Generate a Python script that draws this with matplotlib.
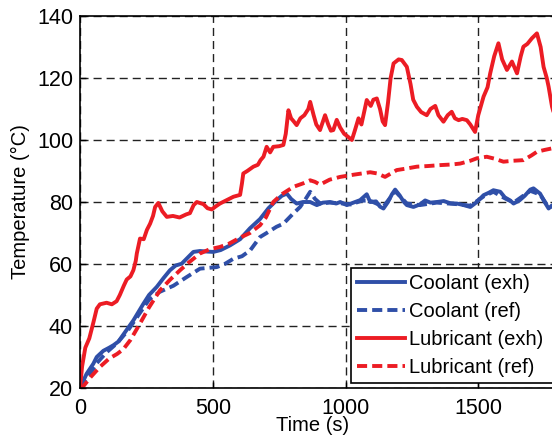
"""Coolant / lubricant warm-up temperatures, exhaust heat recovery vs reference."""

import matplotlib

matplotlib.use("Agg")
import matplotlib.pyplot as plt

# --- data (time in s, temperature in degC) ---
cool_exh_t = [0, 25, 50, 63, 88, 110, 126, 145, 163, 201, 239, 260, 289, 315, 339, 360,
              383, 405, 427, 452, 480, 502, 530, 565, 603, 640, 678, 710, 741, 760, 779,
              795, 816, 840, 867, 892, 915, 942, 965, 980, 1005, 1030, 1055, 1080, 1093,
              1115, 1130, 1143, 1160, 1175, 1187, 1205, 1220, 1231, 1256, 1280, 1300,
              1320, 1344, 1370, 1395, 1420, 1445, 1470, 1495, 1520, 1540, 1557, 1583,
              1600, 1620, 1633, 1655, 1675, 1696, 1708, 1733, 1750, 1765, 1778, 1800]
cool_exh_T = [20, 24.6, 27.8, 30, 32, 33, 33.8, 35, 37.2, 41.8, 47.2, 50, 52.6, 55.5, 58,
              59.5, 60.1, 62, 63.9, 64.2, 64, 63.9, 64.5, 66, 68, 71.5, 74.5, 78, 80.6, 82,
              82.7, 81, 79.5, 80, 80, 79, 79.8, 80, 79.5, 80, 79, 79.8, 80.6, 82.5, 80,
              80.2, 78.5, 77.9, 80, 82.5, 84, 82, 80, 79, 78.4, 79.2, 80.5, 79.8, 80, 80.3,
              79.6, 79.5, 79, 78.4, 80, 82.2, 83, 83.8, 83.3, 81.5, 80.5, 79.5, 80.5, 82,
              84, 84.4, 82.7, 80, 77.9, 78.9, 79]

cool_ref_t = [0, 30, 63, 100, 140, 180, 220, 260, 300, 352, 402, 452, 490, 515, 545, 578,
              610, 641, 678, 703, 740, 766, 800, 829, 850, 867, 885, 905, 940, 980, 1020,
              1060, 1090, 1143, 1187, 1231, 1280, 1344, 1420, 1470, 1520, 1557, 1600,
              1633, 1696, 1733, 1765, 1800]
cool_ref_T = [20, 23.5, 28, 31.5, 34.5, 38.5, 43.5, 48.5, 51, 53, 55.8, 58.5, 58.8, 59, 60,
              61.7, 62.5, 64.4, 68.7, 70, 72, 73, 76, 78.4, 81, 83.3, 81, 79.5, 79.8, 79.6,
              79.2, 80.4, 80.5, 78.5, 83.5, 79.5, 79, 79.8, 79.3, 78.8, 81.8, 83.3, 81.2,
              79.8, 83.6, 82.4, 78.3, 79]

lub_exh_t = [0, 8, 20, 35, 50, 63, 75, 100, 120, 138, 150, 165, 176, 190, 201, 210, 214,
             226, 240, 252, 264, 275, 283, 295, 310, 327, 350, 375, 400, 414, 428, 440,
             465, 480, 496, 510, 527, 550, 578, 603, 610, 615, 630, 653, 670, 680, 691,
             703, 716, 728, 750, 766, 775, 785, 795, 805, 816, 830, 845, 860, 867, 880,
             890, 904, 915, 923, 935, 945, 954, 967, 980, 995, 1010, 1024, 1035, 1049,
             1060, 1070, 1080, 1095, 1105, 1118, 1130, 1140, 1149, 1160, 1170, 1181,
             1200, 1212, 1231, 1245, 1255, 1269, 1285, 1306, 1320, 1338, 1350, 1369,
             1385, 1400, 1412, 1426, 1440, 1457, 1470, 1488, 1500, 1520, 1535, 1545,
             1560, 1576, 1590, 1608, 1627, 1646, 1660, 1670, 1685, 1702, 1721, 1735,
             1746, 1758, 1765, 1778, 1800]
lub_exh_T = [20, 27, 33, 36, 41, 45.6, 47, 47.5, 47, 48, 50, 53, 55, 56, 58, 61, 63.4,
             68.2, 68, 71, 73, 75.5, 78.4, 79.7, 77, 75.2, 75.5, 75, 76, 76.4, 79, 80,
             79.3, 78, 77.6, 78.5, 79.5, 80.5, 81.7, 82.3, 86, 89.2, 90, 91.4, 92, 93.5,
             94.6, 97.8, 96, 97.8, 98, 98.4, 102, 109.6, 107, 106, 104.8, 107, 108, 110,
             112.3, 108, 105, 103.2, 106, 108, 105, 103, 103.2, 106.5, 104, 102, 101, 100,
             103, 107, 105, 109, 112.9, 111, 113, 113.4, 110, 106, 104.8, 112, 120, 124.7,
             126, 125.8, 123.6, 118, 113, 110.7, 109, 108, 110, 111, 108, 105.9, 108,
             109.1, 107, 106.4, 106.8, 106.4, 105, 102.6, 108, 114, 117, 121.5, 127,
             131.2, 126, 122.6, 125.3, 121.5, 127, 130.1, 131, 132.8, 134.4, 130, 123.6,
             120, 117.2, 110.7, 104]

lub_ref_t = [0, 12, 40, 75, 110, 140, 163, 190, 226, 260, 301, 340, 377, 410, 452, 490,
             527, 560, 603, 640, 678, 700, 728, 760, 804, 840, 867, 885, 904, 940, 980,
             1030, 1093, 1120, 1149, 1193, 1230, 1269, 1310, 1357, 1400, 1432, 1470,
             1495, 1532, 1560, 1595, 1630, 1670, 1700, 1721, 1750, 1778, 1800]
lub_ref_T = [20, 20.5, 23.5, 26.8, 29.5, 31, 32.5, 35.5, 40.8, 46, 51.5, 55, 58, 60.5,
             63.4, 64.8, 65.5, 66.5, 68.5, 70, 72.5, 75, 80, 82.5, 84.9, 86, 87, 86.5,
             85.6, 87.2, 88.1, 88.8, 89.6, 89.2, 88.1, 90.3, 90.8, 91.4, 91.6, 91.9, 92.1,
             92.4, 93.3, 94.1, 94.6, 94, 93, 93.3, 93.5, 95, 96.2, 96.8, 97.3, 97.5]

labels = ["Coolant (exh)", "Coolant (ref)", "Lubricant (exh)", "Lubricant (ref)"]
x_ticks = [0, 500, 1000, 1500]
y_ticks = [20, 40, 60, 80, 100, 120, 140]

BLUE = "#2f4fa8"
RED = "#ec1c24"
DASH = (0, (2.6, 1.3))

plt.rcParams["font.family"] = ["Liberation Sans", "DejaVu Sans"]

fig = plt.figure(figsize=(5.52, 4.44), dpi=100)
# axes run past the right edge of the figure, as in the cropped original
ax = fig.add_axes([80 / 552, 1 - 388 / 444, 531 / 552, 372 / 444])

lw = 2.8
ax.plot(cool_exh_t, cool_exh_T, color=BLUE, lw=lw, label=labels[0])
ax.plot(cool_ref_t, cool_ref_T, color=BLUE, lw=lw, ls=DASH, label=labels[1])
ax.plot(lub_exh_t, lub_exh_T, color=RED, lw=lw, label=labels[2])
ax.plot(lub_ref_t, lub_ref_T, color=RED, lw=lw, ls=DASH, label=labels[3])

ax.set_xlim(0, 2000)
ax.set_ylim(20, 140)
ax.set_xticks(x_ticks)
ax.set_yticks(y_ticks)
ax.tick_params(direction="in", length=4, labelsize=15.5, width=1)
ax.tick_params(axis="x", pad=7)
ax.tick_params(axis="y", pad=5)
ax.grid(True, color="#222222", lw=1.0, ls=(0, (5.8, 3.6)))
for sp in ax.spines.values():
    sp.set_linewidth(1.2)

ax.set_xlabel("Time (s)", fontsize=14.5)
ax.xaxis.set_label_coords((313 - 80) / 531, -0.075)
ax.set_ylabel("Temperature (°C)", fontsize=14.5)
ax.yaxis.set_label_coords((30 - 80) / 531, 0.5)

leg = fig.legend(
    loc="upper left",
    bbox_to_anchor=(351 / 552, 1 - 268 / 444, 230 / 552, 0.0),
    bbox_transform=fig.transFigure,
    mode="expand",
    fontsize=14.5,
    frameon=True,
    fancybox=False,
    edgecolor="black",
    framealpha=1,
    handlelength=2.4,
    handletextpad=0.2,
    labelspacing=0.45,
    borderaxespad=0,
    borderpad=0.3,
)
leg.get_frame().set_linewidth(1.2)

fig.savefig("out.png", dpi=100)
